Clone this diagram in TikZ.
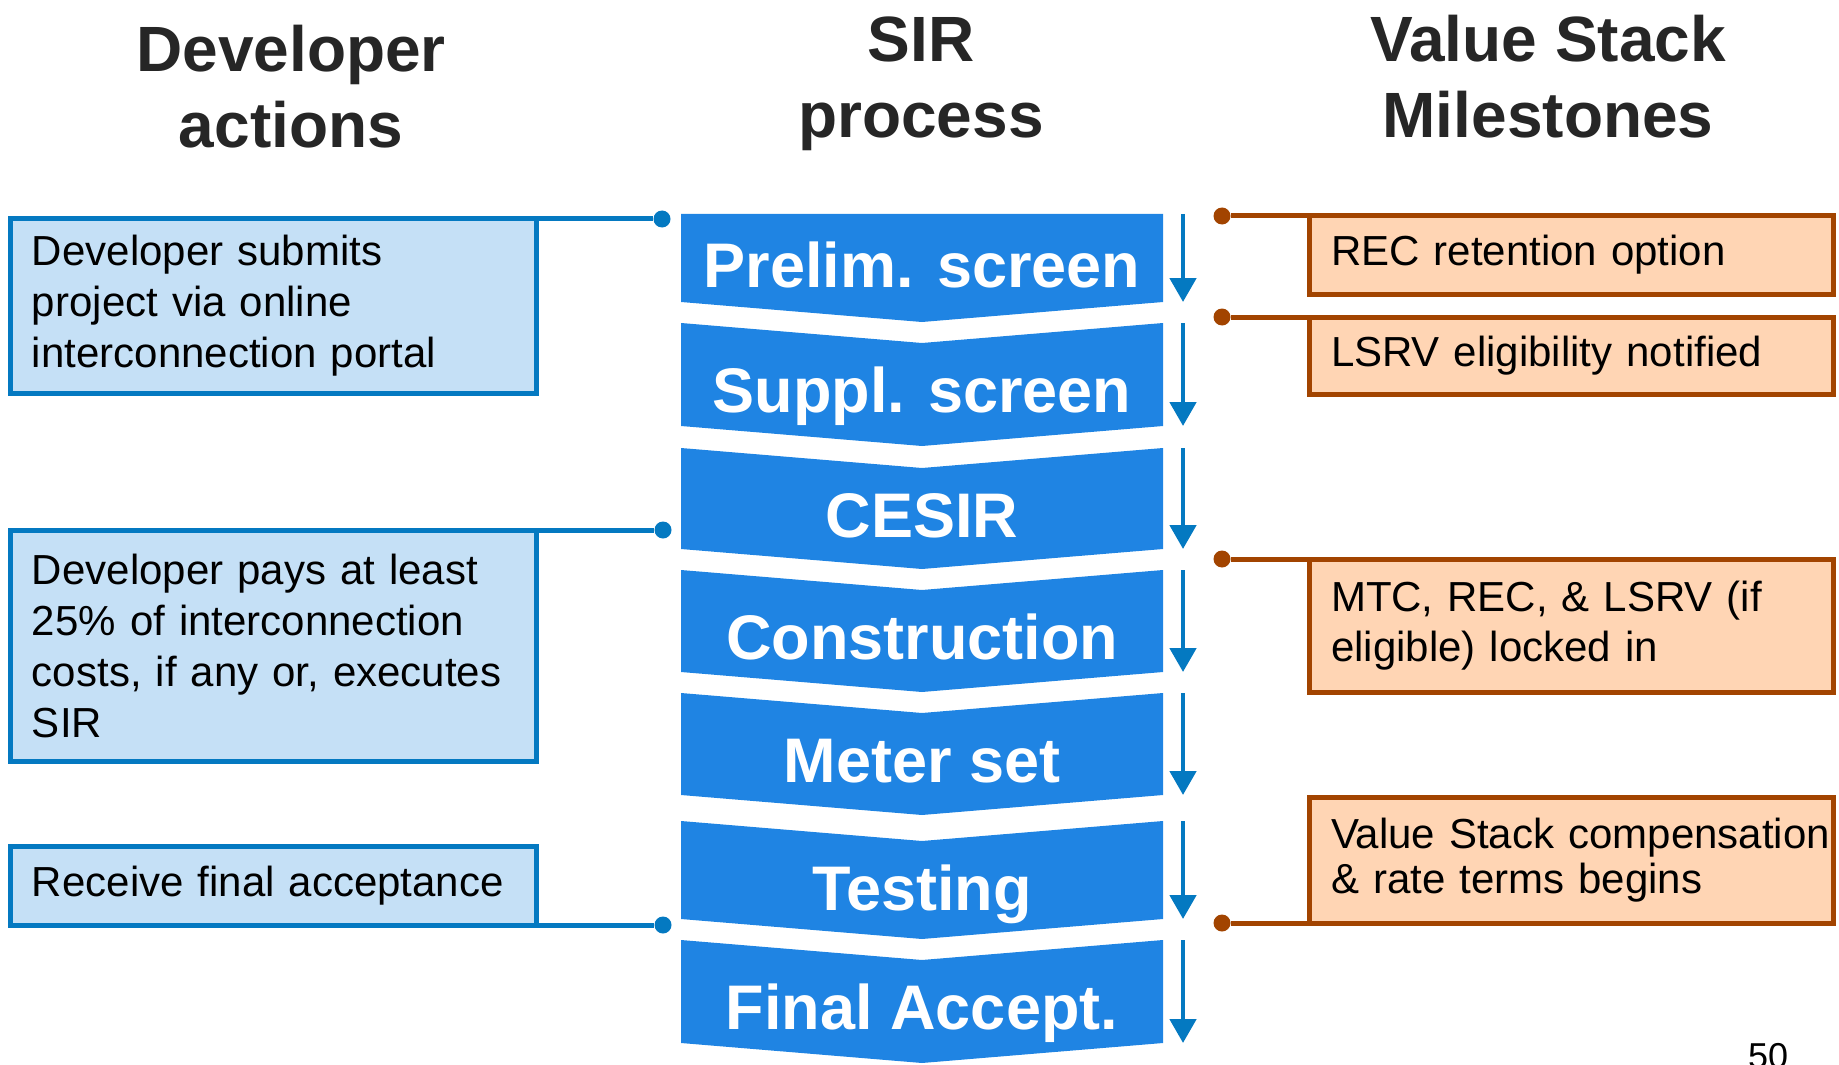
\documentclass[tikz,border=0pt]{standalone}
\usepackage{fontspec}
\setmainfont{Liberation Sans}
\usetikzlibrary{arrows.meta}
\definecolor{sirStep}{HTML}{1F84E3}
\definecolor{sirArrow}{HTML}{0479C1}
\definecolor{devFill}{HTML}{C5E0F6}
\definecolor{vsFill}{HTML}{FFD5B4}
\definecolor{vsLine}{HTML}{A24400}
\definecolor{sirInk}{HTML}{262626}
\tikzset{
  sir diagram/.style={x=0.5pt, y=-0.5pt, line join=miter},
  sir title/.style={font=\fontsize{32}{38}\selectfont\bfseries, text=sirInk,
    align=center, anchor=base, inner sep=0pt},
  sir step/.style={fill=sirStep},
  sir label/.style={font=\fontsize{31.5}{38}\selectfont\bfseries, text=white,
    anchor=base, inner sep=0pt},
  sir arrow/.style={-{Triangle[width=13pt,length=12pt]}, draw=sirArrow,
    line width=2.4pt},
  sir dot/.style={circle, fill=#1, inner sep=0pt, minimum size=8.5pt},
  dev box/.style={draw=sirArrow, fill=devFill, line width=2.5pt,
    anchor=north west, align=left, text width=241pt, inner xsep=11pt,
    inner ysep=0pt, outer sep=0pt, minimum height=#1,
    font=\fontsize{21}{25.5}\selectfont},
  vs box/.style={draw=vsLine, fill=vsFill, line width=2.5pt,
    anchor=north west, align=left, text width=240pt, inner xsep=11pt,
    inner ysep=0pt, outer sep=0pt, minimum height=#1,
    font=\fontsize{21}{25}\selectfont},
  dev link/.style={draw=sirArrow, line width=2.5pt},
  vs link/.style={draw=vsLine, line width=2.5pt},
  sir page/.style={font=\fontsize{18}{20}\selectfont, anchor=base, inner sep=0pt}
}
\begin{document}
\begin{tikzpicture}[sir diagram]
\useasboundingbox (0,0) rectangle (1839,1064);
% column heads (anchored on the last line)
\node[sir title] (devhead) at (291,148) {Developer\\actions};
\node[sir title] (sirhead) at (921,138) {SIR\\process};
\node[sir title] (vshead) at (1548,138) {Value Stack\\Milestones};
% SIR steps
\foreach \name/\ytop/\dip/\ybot/\ybase/\txt in {
    prelim/214/0/302/287/Prelim. screen,
    suppl/323/20/426/412/Suppl. screen,
    cesir/448/20/549/537/CESIR,
    constr/570/20/672/659/Construction,
    meter/693/20/795/782/Meter set,
    testing/821/20/919/910/Testing,
    final/940/20/1043/1029/Final Accept.}{
  \fill[sir step] (681,\ytop) -- (922,\ytop+\dip) -- (1163,\ytop) -- (1163,\ybot)
    -- (922,\ybot+20) -- (681,\ybot) -- cycle;
  \node[sir label] (\name) at (922,\ybase) {\txt};
  \draw[sir arrow] (1183,\ytop) -- (1183,\ybot);
}
% developer actions
\node[dev box=87pt] (dev1) at (10,219)
  {Developer submits\\project via online\\interconnection portal};
\node[dev box=115.5pt] (dev2) at (10,530)
  {Developer pays at least\\25\% of interconnection\\costs, if any or, executes\\SIR};
\node[dev box=39.5pt] (dev3) at (10,846) {Receive final acceptance};
\node[sir dot=sirArrow] (devdot1) at (662,219) {};
\node[sir dot=sirArrow] (devdot2) at (663,530) {};
\node[sir dot=sirArrow] (devdot3) at (663,925) {};
\draw[dev link] (dev1.north east) -- (devdot1);
\draw[dev link] (dev2.north east) -- (devdot2);
\draw[dev link] (dev3.south east) -- (devdot3);
% value stack milestones
\node[vs box=39pt] (vs1) at (1309,216) {REC retention option};
\node[vs box=38.5pt] (vs2) at (1309,317) {LSRV eligibility notified};
\node[vs box=66.5pt] (vs3) at (1309,559) {MTC, REC, \& LSRV (if\\eligible) locked in};
\node[vs box=63pt, font=\fontsize{21}{22.5}\selectfont] (vs4) at (1309,797)
  {\mbox{Value Stack compensation}\\\& rate terms begins};
\node[sir dot=vsLine] (vsdot1) at (1222,216) {};
\node[sir dot=vsLine] (vsdot2) at (1222,317) {};
\node[sir dot=vsLine] (vsdot3) at (1222,559) {};
\node[sir dot=vsLine] (vsdot4) at (1222,923) {};
\draw[vs link] (vsdot1) -- (vs1.north west);
\draw[vs link] (vsdot2) -- (vs2.north west);
\draw[vs link] (vsdot3) -- (vs3.north west);
\draw[vs link] (vsdot4) -- (vs4.south west);
\node[sir page] (pagenum) at (1768,1068) {50};
\end{tikzpicture}
\end{document}
